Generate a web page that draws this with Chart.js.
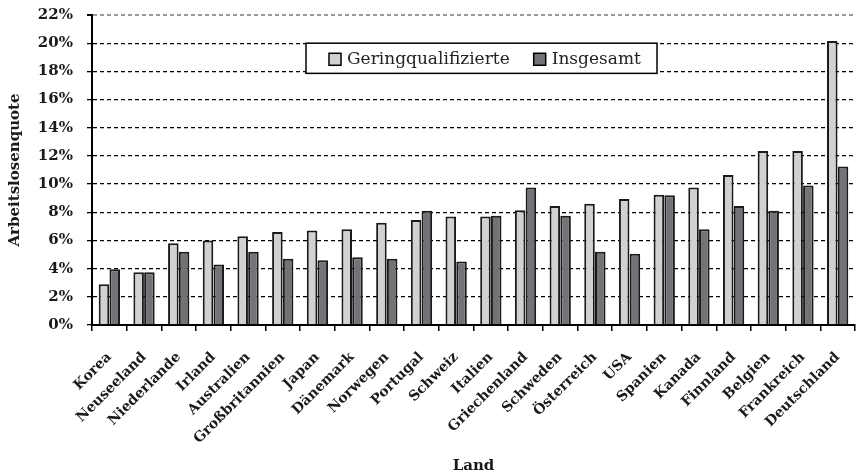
<!DOCTYPE html>
<html>
<head>
<meta charset="utf-8">
<script src="https://cdn.jsdelivr.net/npm/chart.js@4.4.1/dist/chart.umd.min.js"></script>
<style>
    html, body { margin: 0; padding: 0; background: #ffffff; }
    #wrap { width: 856px; height: 475px; position: relative; }
</style>
</head>
<body>
<div id="wrap"><canvas id="quoteChart"></canvas></div>
<script>
// Arbeitslosenquote nach Land - Geringqualifizierte vs. Insgesamt

const countries = ['Korea', 'Neuseeland', 'Niederlande', 'Irland', 'Australien', 'Großbritannien',
    'Japan', 'Dänemark', 'Norwegen', 'Portugal', 'Schweiz', 'Italien', 'Griechenland', 'Schweden',
    'Österreich', 'USA', 'Spanien', 'Kanada', 'Finnland', 'Belgien', 'Frankreich', 'Deutschland'];

const geringqualifizierte = [2.9, 3.75, 5.8, 6.0, 6.3, 6.6, 6.7, 6.8, 7.25, 7.45, 7.7, 7.7,
    8.15, 8.45, 8.6, 8.95, 9.25, 9.75, 10.65, 12.35, 12.35, 20.15];

const insgesamt = [3.95, 3.75, 5.2, 4.3, 5.2, 4.7, 4.6, 4.8, 4.7, 8.1, 4.5, 7.75,
    9.75, 7.75, 5.2, 5.05, 9.2, 6.8, 8.45, 8.1, 9.9, 11.25];

const seriesNames = ['Geringqualifizierte', 'Insgesamt'];
const yMin = 0;
const yMax = 22;
const yStep = 2;

const serif = "'DejaVu Serif', 'Liberation Serif', serif";

// Legend drawn inside the plot area as a framed box
const boxLegend = {
    id: 'boxLegend',
    afterDraw(chart) {
        const ctx = chart.ctx;
        const area = chart.chartArea;
        const y = chart.scales.y;
        const left = area.left + 214;
        const right = area.left + 565;
        const top = y.getPixelForValue(20);
        const bottom = y.getPixelForValue(18) + 2;

        ctx.save();
        ctx.fillStyle = '#ffffff';
        ctx.fillRect(left, top, right - left, bottom - top);
        ctx.strokeStyle = '#000000';
        ctx.lineWidth = 1.5;
        ctx.strokeRect(left, top, right - left, bottom - top);

        ctx.font = '17px ' + serif;
        ctx.textBaseline = 'middle';
        const midY = (top + bottom) / 2 + 1;
        let x = left + 23;
        chart.data.datasets.forEach(function (ds, i) {
            ctx.fillStyle = ds.backgroundColor;
            ctx.fillRect(x, midY - 6, 12, 12);
            ctx.strokeStyle = '#000000';
            ctx.lineWidth = 1.5;
            ctx.strokeRect(x, midY - 6, 12, 12);
            ctx.fillStyle = '#222222';
            ctx.fillText(ds.label, x + 18, midY);
            x += 18 + ctx.measureText(ds.label).width + 24;
        });
        ctx.restore();
    }
};

const ctx = document.getElementById('quoteChart').getContext('2d');

new Chart(ctx, {
    type: 'bar',
    data: {
        labels: countries,
        datasets: [{
            label: seriesNames[0],
            data: geringqualifizierte,
            backgroundColor: '#d1d1d3',
            borderColor: '#1a1a1a',
            borderWidth: 2,
            categoryPercentage: 0.62,
            barPercentage: 0.98
        }, {
            label: seriesNames[1],
            data: insgesamt,
            backgroundColor: '#737276',
            borderColor: '#1a1a1a',
            borderWidth: 2,
            categoryPercentage: 0.62,
            barPercentage: 0.98
        }]
    },
    options: {
        responsive: true,
        maintainAspectRatio: false,
        animation: false,
        layout: {
            padding: { top: 15, right: 1, left: 0, bottom: 0 }
        },
        plugins: {
            legend: { display: false },
            tooltip: { enabled: false }
        },
        scales: {
            x: {
                grid: {
                    display: true,
                    offset: true,
                    drawOnChartArea: false,
                    drawTicks: true,
                    tickLength: 6,
                    color: '#000000',
                    lineWidth: 1.5
                },
                border: { display: true, color: '#000000', width: 2 },
                ticks: {
                    color: '#1a1a1a',
                    maxRotation: 45,
                    minRotation: 45,
                    autoSkip: false,
                    padding: 18,
                    font: { size: 14, weight: 'bold', family: serif }
                },
                title: {
                    display: true,
                    text: 'Land',
                    color: '#1a1a1a',
                    padding: { top: 4, bottom: 0 },
                    font: { size: 15, weight: 'bold', family: serif }
                },
                afterFit: function (scale) {
                    scale.height = 150;
                    scale.paddingLeft = 0;
                    scale.paddingRight = 0;
                    scale.paddingTop = 0;
                    scale.paddingBottom = 0;
                }
            },
            y: {
                min: yMin,
                max: yMax,
                ticks: {
                    stepSize: yStep,
                    color: '#1a1a1a',
                    padding: 14,
                    font: { size: 15, weight: 'bold', family: serif },
                    callback: function (value) {
                        return value + '%';
                    }
                },
                grid: {
                    color: function (c) {
                        return c.tick && c.tick.value === yMax ? '#9a9a9a' : '#000000';
                    },
                    lineWidth: function (c) {
                        return c.tick && c.tick.value === yMax ? 2 : 1.3;
                    },
                    tickLength: 5,
                    tickColor: '#000000'
                },
                border: { display: true, color: '#000000', width: 2, dash: [4, 3] },
                title: {
                    display: true,
                    text: 'Arbeitslosenquote',
                    color: '#1a1a1a',
                    padding: { top: 6, bottom: 2 },
                    font: { size: 15, weight: 'bold', family: serif }
                },
                afterFit: function (scale) {
                    scale.width = 92;
                    scale.paddingTop = 0;
                    scale.paddingBottom = 0;
                }
            }
        }
    },
    plugins: [boxLegend]
});
</script>
</body>
</html>
